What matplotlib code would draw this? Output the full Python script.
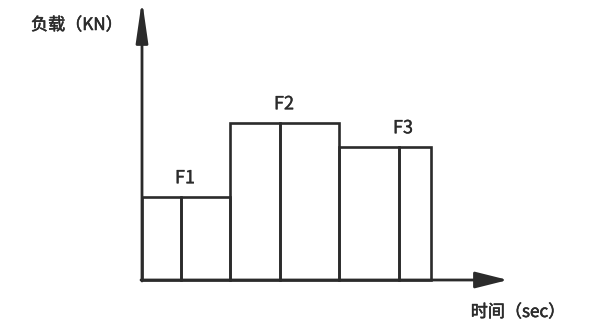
import matplotlib
matplotlib.use("Agg")
import matplotlib.pyplot as plt
import matplotlib.patheffects as pe

plt.rcParams['font.family'] = ['Noto Sans CJK SC', 'DejaVu Sans']

# load steps: name, start, divider, end (time units), load
names = ["F1", "F2", "F3"]
starts = [0, 88, 197]
dividers = [39, 138, 257]
ends = [88, 197, 289]
loads = [83, 157, 133]

col = "#2b2b2b"
thin = [pe.withStroke(linewidth=0.25, foreground=col)]
thick = [pe.withStroke(linewidth=0.4, foreground=col)]

fig = plt.figure(figsize=(5.97, 3.23), dpi=100)
ax = fig.add_axes([0, 0, 1, 1])
ax.set_xlim(-142, 455)
ax.set_ylim(-43, 280)
ax.axis("off")

# each step drawn as two open bars split at the divider
for s, d, e, h, n in zip(starts, dividers, ends, loads, names):
    ax.bar([s, d], [h, h], width=[d - s, e - d], align="edge", fill=False,
           edgecolor=col, linewidth=1.9)
    ax.annotate(n, (d + 4, h), xytext=(0, 7), textcoords="offset points",
                ha="center", va="bottom", fontsize=13, color=col,
                path_effects=thin)

# axes with arrows
ax.annotate("", xy=(0, 280), xytext=(0, -1),
            arrowprops=dict(arrowstyle="-|>,head_length=2.5,head_width=0.36",
                            mutation_scale=10, color=col, lw=2,
                            shrinkA=0, shrinkB=0))
ax.annotate("", xy=(366, 0), xytext=(-1, 0),
            arrowprops=dict(arrowstyle="-|>,head_length=2.0,head_width=0.5",
                            mutation_scale=10, color=col, lw=2,
                            shrinkA=0, shrinkB=0))

ax.text(77 - 142, 280 - 25, "负载（KN）", ha="center", va="center",
        fontsize=12.3, color=col, path_effects=thick)
ax.text(518 - 142, 280 - 312, "时间（sec）", ha="center", va="center",
        fontsize=12.3, color=col, path_effects=thick)

fig.savefig("out.png", dpi=100)
